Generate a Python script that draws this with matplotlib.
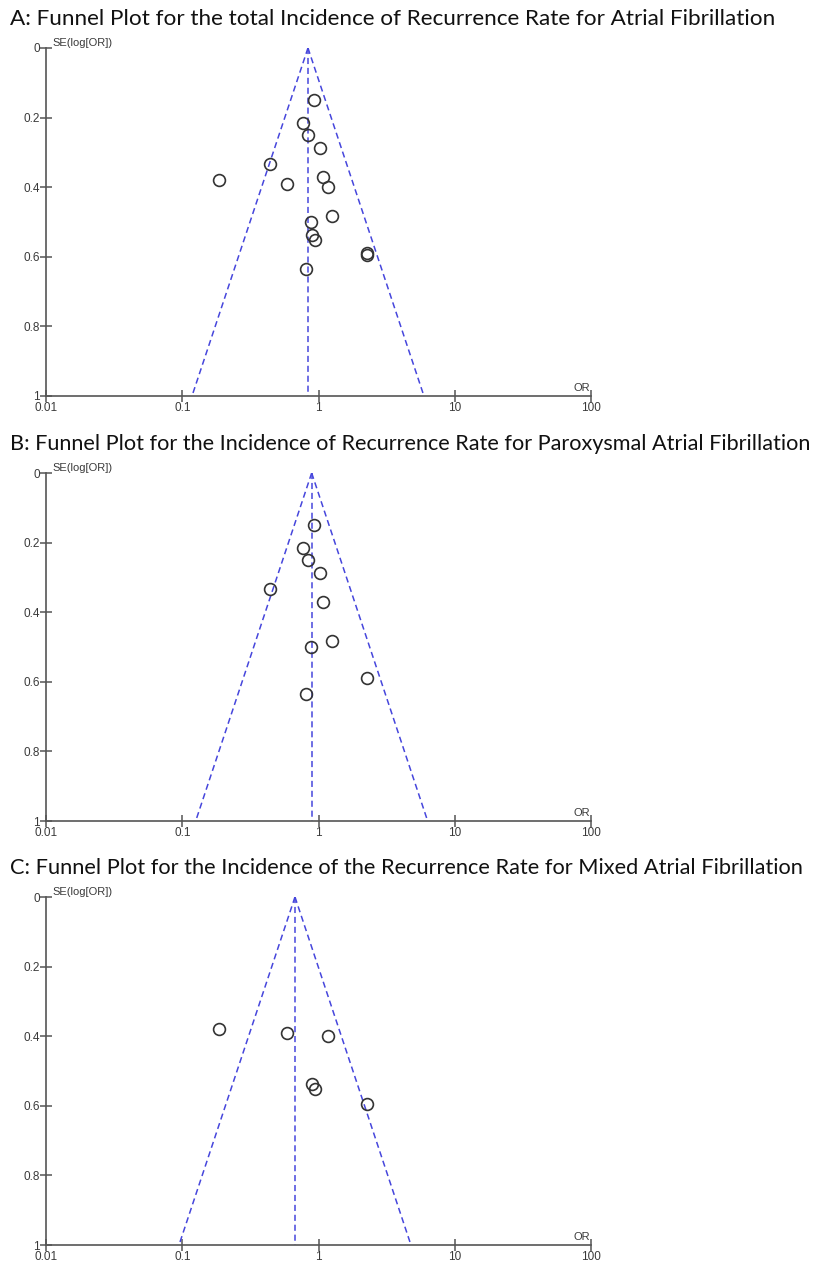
import numpy as np
import matplotlib.pyplot as plt

# study estimates (odds ratio, standard error of log OR)
parox_or = [0.927, 0.770, 0.842, 1.026, 0.438, 1.074, 1.25, 0.881, 2.28, 0.813]
parox_se = [0.150, 0.216, 0.251, 0.287, 0.333, 0.372, 0.484, 0.499, 0.589, 0.634]
mixed_or = [0.187, 0.590, 1.174, 0.900, 0.942, 2.28]
mixed_se = [0.380, 0.392, 0.400, 0.536, 0.551, 0.594]
total_or = parox_or + mixed_or
total_se = parox_se + mixed_se

pooled = {"A": 0.837, "B": 0.891, "C": 0.672}
titles = [
    "A: Funnel Plot for the total Incidence of Recurrence Rate for Atrial Fibrillation",
    "B: Funnel Plot for the Incidence of Recurrence Rate for Paroxysmal Atrial Fibrillation",
    "C: Funnel Plot for the Incidence of the Recurrence Rate for Mixed Atrial Fibrillation",
]
title_sizes = [16.2, 15.6, 15.7]
panels = [("A", total_or, total_se), ("B", parox_or, parox_se), ("C", mixed_or, mixed_se)]

x_ticks = [0.01, 0.1, 1, 10, 100]
x_labels = ["0.01", "0.1", "1", "10", "100"]
y_ticks = [0, 0.2, 0.4, 0.6, 0.8, 1]
y_labels = ["0", "0.2", "0.4", "0.6", "0.8", "1"]

W, H = 822, 1261
fig = plt.figure(figsize=(W / 100, H / 100), dpi=100)

axis_col = "#555555"
line_col = "#4646dc"
tops = [48, 473, 897]
title_y = [19, 444, 868]

for (key, ors, ses), top, ty, title, tsize in zip(panels, tops, title_y, titles, title_sizes):
    ax = fig.add_axes([46 / W, 1 - (top + 348) / H, 545 / W, 348 / H])
    ax.set_xscale("log")
    ax.set_xlim(0.01, 100)
    ax.set_ylim(1, 0)

    # pseudo 95% confidence limits around the pooled estimate
    p = pooled[key]
    se_line = np.array([0, 1])
    dash = (0, (4, 2.5))
    ax.plot(p * np.exp(-1.96 * se_line), se_line, ls=dash, color=line_col, lw=1.1)
    ax.plot(p * np.exp(1.96 * se_line), se_line, ls=dash, color=line_col, lw=1.1)
    ax.plot([p, p], [0, 1], ls=dash, color=line_col, lw=1.1)

    ax.plot(ors, ses, "o", ms=8.5, mfc="none", mec="#333333", mew=1.2, clip_on=False)

    for s in ["top", "right"]:
        ax.spines[s].set_visible(False)
    for s in ["left", "bottom"]:
        ax.spines[s].set_color(axis_col)
        ax.spines[s].set_linewidth(1.2)

    ax.set_xticks(x_ticks)
    ax.set_xticklabels(x_labels)
    ax.xaxis.set_minor_locator(plt.NullLocator())
    ax.set_yticks(y_ticks)
    ax.set_yticklabels(y_labels)
    ax.tick_params(direction="inout", length=9, width=1.1, color=axis_col,
                   labelsize=8.5, labelcolor="#3a3a3a", pad=0)
    for lab in ax.get_xticklabels() + ax.get_yticklabels():
        lab.set_fontfamily("Liberation Sans")

    ax.text(0.012, 1.0, "SE(log[OR])", transform=ax.transAxes, fontsize=8,
            family="Liberation Sans", color="#3a3a3a", va="bottom", ha="left")
    ax.text(0.998, 0.008, "OR", transform=ax.transAxes, fontsize=8,
            family="Liberation Sans", color="#3a3a3a", va="bottom", ha="right")

    fig.text(10 / W, 1 - ty / H, title, fontsize=tsize, family="Lato",
             va="center", ha="left", color="#111111")

fig.savefig("out.png", dpi=100)
